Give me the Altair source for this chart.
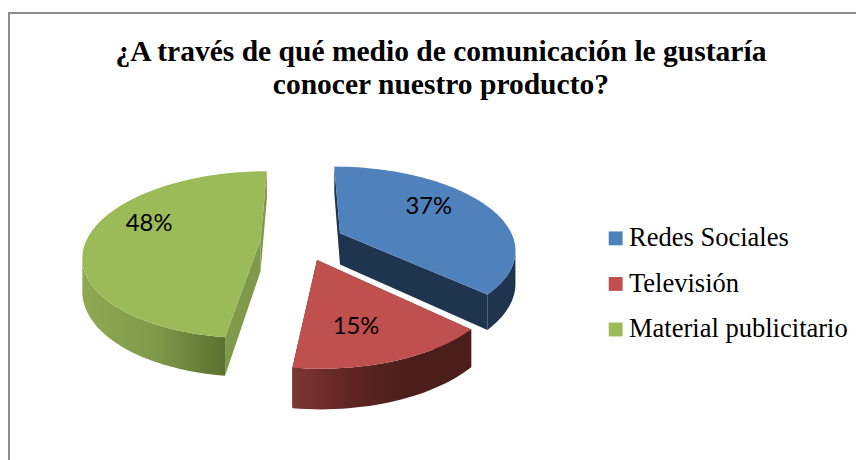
import math
import altair as alt

# --- chart values ---
CATEGORIES = ["Redes Sociales", "Televisión", "Material publicitario"]
SHARES = [37, 15, 48]
LABELS = ["37%", "15%", "48%"]
TITLE_LINES = ["¿A través de qué medio de comunicación le gustaría", "conocer nuestro producto?"]
TOP_COLORS = ["#4f81bd", "#c0504d", "#9bbb59"]

# --- look of the 3D pie (page pixels) ---
CX, CY, RX, RY, PERSP, DEPTH, EXPLODE = 305, 241, 176, 82, 0.18, 32, 0.24
W, H = 856, 452


def proj(u, v, drop=0.0):
    s = 1 / (1 + PERSP * v)
    return [CX + RX * u * s, CY - RY * v * s + DEPTH * s * drop]


def feature(ring, name=""):
    return {"type": "Feature", "properties": {"name": name},
            "geometry": {"type": "Polygon", "coordinates": [ring + [ring[0]]]}}


def slice_geom(start, share):
    a0 = start / 100 * 2 * math.pi
    a1 = (start + share) / 100 * 2 * math.pi
    mid = (a0 + a1) / 2
    du, dv = EXPLODE * math.sin(mid), EXPLODE * math.cos(mid)
    n = max(2, int(share * 2))
    angs = [a0 + (a1 - a0) * i / n for i in range(n + 1)]
    pt = lambda a, drop=0.0: proj(du + math.sin(a), dv + math.cos(a), drop)
    apex = lambda drop=0.0: proj(du, dv, drop)
    top = [apex()] + [pt(a) for a in angs]
    vis = [a for a in angs if math.cos(a) < -PERSP]
    rim = [pt(a) for a in vis] + [pt(a, 1) for a in reversed(vis)]
    wall0 = [apex(), pt(a0), pt(a0, 1), apex(1)]
    wall1 = [apex(), pt(a1), pt(a1, 1), apex(1)]
    return top, rim, wall0, wall1, (du, dv, mid)


geo = []
cum = 0
for sh in SHARES:
    geo.append(slice_geom(cum, sh))
    cum += sh

PROJ = dict(type="identity", scale=1, translate=[-8, -8])


def shape(features, **mark):
    return alt.Chart(alt.InlineData(values=features)).mark_geoshape(clip=False, **mark).project(**PROJ)


def grad(*stops):
    n = len(stops) - 1
    return alt.Gradient(gradient="linear", x1=0, x2=1, y1=0, y2=0,
                        stops=[alt.GradientStop(color=c, offset=i / n) for i, c in enumerate(stops)])


layers = []
# frame of the chart
frame = {"type": "Feature", "properties": {},
         "geometry": {"type": "LineString", "coordinates": [[9, 480], [9, 11], [880, 11]]}}
layers.append(shape([frame], filled=False, stroke="#8c8c8c", strokeWidth=2))

WALL_COLORS = ["#1f344f", "#4d1f1c", "#7f9a4a"]
RIM_FILLS = [grad("#1f344f", "#1f344f"),
             grad("#7e3634", "#5e2422", "#4b1e1b", "#4b1e1b"),
             grad("#8fa953", "#7f9a4a", "#5c7130")]
for g, wc, rf in zip(geo, WALL_COLORS, RIM_FILLS):
    top, rim, w0, w1, _ = g
    layers.append(shape([feature(w0), feature(w1)], fill=wc, strokeWidth=0))
    layers.append(shape([feature(rim)], fill=rf, strokeWidth=0))

tops = [feature(g[0], c) for g, c in zip(geo, CATEGORIES)]
layers.append(
    shape(tops, strokeWidth=0).encode(
        color=alt.Color(
            "properties.name:N",
            scale=alt.Scale(domain=CATEGORIES, range=TOP_COLORS),
            sort=CATEGORIES,
            legend=alt.Legend(
                title=None, orient="none", legendX=600, legendY=217,
                symbolType="square", symbolSize=196, symbolStrokeWidth=0,
                labelFont="Liberation Serif", labelFontSize=26.8, labelColor="#000000",
                labelOffset=0, rowPadding=18, labelLimit=400,
            ),
        )
    )
)

# percentage labels, placed along each slice's mid angle
NUDGE = [(7, -10), (0, 17), (-17, -13)]
for g, txt, (dx, dy) in zip(geo, LABELS, NUDGE):
    du, dv, mid = g[4]
    x, y = proj(du + 0.55 * math.sin(mid), dv + 0.55 * math.cos(mid))
    layers.append(
        alt.Chart(alt.InlineData(values=[{"t": txt, "lon": x, "lat": y}]))
        .mark_text(font="Lato", fontSize=24, color="#000000", dx=dx, dy=dy, baseline="middle", align="center")
        .encode(longitude="lon:Q", latitude="lat:Q", text="t:N")
        .project(**PROJ)
    )

chart = alt.layer(*layers).properties(
    width=W, height=H,
    padding=0,
    autosize=alt.AutoSizeParams(type="none"),
    background="white",
    title=alt.TitleParams(
        text=TITLE_LINES, font="Liberation Serif", fontSize=29.8, fontWeight="bold",
        color="#000000", anchor="middle", dx=9, lineHeight=33, offset=-91,
    ),
).configure_view(stroke=None)

chart.save("out.html", embed_options={"renderer": "svg", "actions": False})
